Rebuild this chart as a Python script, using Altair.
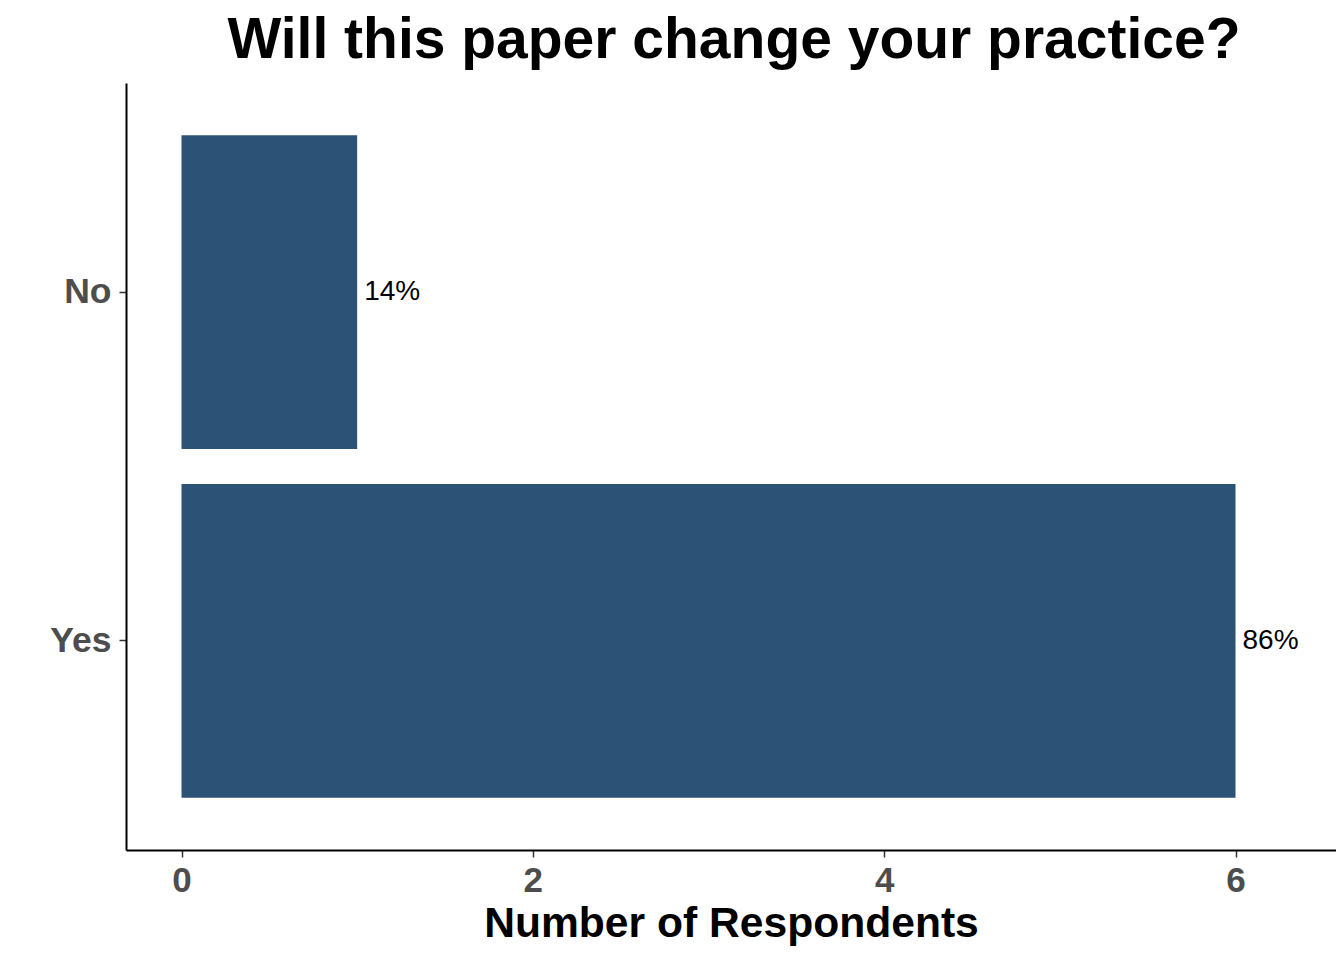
import altair as alt
import pandas as pd

categories = ["Yes", "No"]
counts = [6, 1]
labels = ["86%", "14%"]

df = pd.DataFrame({"answer": categories, "count": counts, "label": labels})

FONT = "Liberation Sans"

x_enc = alt.X(
    "count:Q",
    scale=alt.Scale(domain=[-0.316, 6.572], nice=False, zero=False),
    axis=alt.Axis(
        values=[0, 2, 4, 6], format="d",
        title="Number of Respondents",
        titleFont=FONT, titleFontSize=42.6, titleFontWeight="bold", titleColor="black",
        titleBaseline="alphabetic", titleY=86, titleX=605,
        labelFont=FONT, labelFontSize=35, labelFontWeight="bold", labelColor="#4D4D4D",
        labelPadding=6, tickSize=7, tickColor="#333333", tickWidth=1.5,
        domainColor="black", domainWidth=2, grid=False, labelFlush=False,
    ),
)
y_enc = alt.Y(
    "answer:N",
    sort=["No", "Yes"],
    scale=alt.Scale(paddingInner=0.1, paddingOuter=0.15),
    axis=alt.Axis(
        title=None,
        labelFont=FONT, labelFontSize=35.5, labelFontWeight="bold", labelColor="#4D4D4D",
        labelPadding=8, tickSize=7, tickColor="#333333", tickWidth=1.5,
        domainColor="black", domainWidth=2, grid=False,
    ),
)

bars = alt.Chart(df).mark_bar(color="#2C5276").encode(x=x_enc, y=y_enc)
text = alt.Chart(df).mark_text(
    align="left", baseline="middle", dx=7, font=FONT, fontSize=28, color="black"
).encode(x="count:Q", y=alt.Y("answer:N", sort=["No", "Yes"]), text="label:N")

chart = (
    alt.layer(bars, text)
    .properties(
        width=1210,
        height=767,
        background="white",
        title=alt.TitleParams(
            "Will this paper change your practice?",
            font=FONT, fontSize=57, fontWeight="bold", color="black",
            anchor="middle", frame="group", offset=13, dx=3,
        ),
        autosize=alt.AutoSizeParams(type="none"),
        padding={"left": 118, "top": 75, "right": 0, "bottom": 100},
    )
    .configure_view(strokeWidth=0, stroke="transparent")
)

chart.save("out.html", embed_options={"renderer": "svg", "actions": False})
